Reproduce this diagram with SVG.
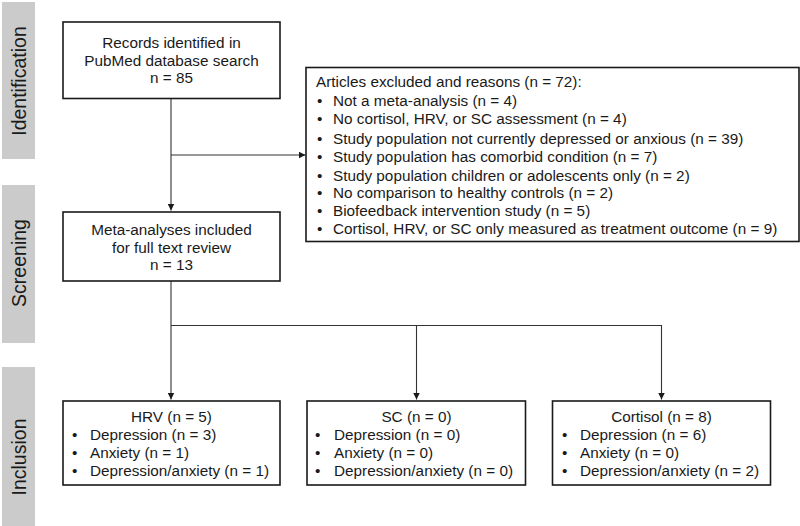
<svg xmlns="http://www.w3.org/2000/svg" width="800" height="526" viewBox="0 0 800 526">
<style>
.bar{fill:#cbcbcb}
.lab{font-family:"Liberation Sans",Arial,sans-serif;font-size:19.5px;fill:#1a1a1a;text-anchor:middle}
.box{fill:#fff;stroke:#1a1a1a;stroke-width:1.6}
.t{font-family:"Liberation Sans",Arial,sans-serif;font-size:15.3px;fill:#1a1a1a}
.c{text-anchor:middle}
.ln{fill:none;stroke:#333;stroke-width:1.1}
</style>
<defs>
<marker id="ah" viewBox="0 0 10 10" refX="10" refY="5" markerWidth="7" markerHeight="7" markerUnits="userSpaceOnUse" orient="auto">
<path d="M0,0 L10,5 L0,10 z" fill="#1a1a1a"/>
</marker>
</defs>
<rect width="800" height="526" fill="#fff"/>
<g id="phase-identification">
<rect class="bar" x="2" y="2" width="33" height="157"/>
<text class="lab" transform="translate(26,81) rotate(-90)">Identification</text>
</g>
<g id="phase-screening">
<rect class="bar" x="2" y="185" width="33" height="158"/>
<text class="lab" transform="translate(26,263) rotate(-90)">Screening</text>
</g>
<g id="phase-inclusion">
<rect class="bar" x="2" y="367" width="33" height="159"/>
<text class="lab" transform="translate(26,457) rotate(-90)">Inclusion</text>
</g>
<g id="connectors">
<path class="ln" d="M171,98.5 V210.5" marker-end="url(#ah)"/>
<path class="ln" d="M171,155 H305.5" marker-end="url(#ah)"/>
<path class="ln" d="M171,281 V399.5" marker-end="url(#ah)"/>
<path class="ln" d="M171,325.5 H661.5 V399.5" marker-end="url(#ah)"/>
<path class="ln" d="M416.5,325.5 V399.5" marker-end="url(#ah)"/>
</g>
<g id="records">
<rect class="box" x="63" y="22" width="217" height="76.5"/>
<text class="t c" x="171.5" y="48">Records identified in</text>
<text class="t c" x="171.5" y="65.5">PubMed database search</text>
<text class="t c" x="171.5" y="83">n = 85</text>
</g>
<g id="excluded">
<rect class="box" x="306" y="67.5" width="493" height="174"/>
<text class="t" x="316" y="87.3">Articles excluded and reasons (n = 72):</text>
<g class="t">
<text x="317" y="106">•</text><text x="333" y="106">Not a meta-analysis (n = 4)</text>
<text x="317" y="124.3">•</text><text x="333" y="124.3">No cortisol, HRV, or SC assessment (n = 4)</text>
<text x="317" y="143.5">•</text><text x="333" y="143.5">Study population not currently depressed or anxious (n = 39)</text>
<text x="317" y="161.5">•</text><text x="333" y="161.5">Study population has comorbid condition (n = 7)</text>
<text x="317" y="180.5">•</text><text x="333" y="180.5">Study population children or adolescents only (n = 2)</text>
<text x="317" y="198.3">•</text><text x="333" y="198.3">No comparison to healthy controls (n = 2)</text>
<text x="317" y="216">•</text><text x="333" y="216">Biofeedback intervention study (n = 5)</text>
<text x="317" y="234.3">•</text><text x="333" y="234.3">Cortisol, HRV, or SC only measured as treatment outcome (n = 9)</text>
</g>
</g>
<g id="fulltext">
<rect class="box" x="63" y="212" width="217" height="69"/>
<text class="t c" x="171.5" y="235">Meta-analyses included</text>
<text class="t c" x="171.5" y="252.5">for full text review</text>
<text class="t c" x="171.5" y="270">n = 13</text>
</g>
<g id="hrv">
<rect class="box" x="63" y="401" width="217" height="84"/>
<text class="t c" x="171.5" y="421.5">HRV (n = 5)</text>
<text class="t" x="72" y="439.5">•</text><text class="t" x="90" y="439.5">Depression (n = 3)</text>
<text class="t" x="72" y="457.5">•</text><text class="t" x="90" y="457.5">Anxiety (n = 1)</text>
<text class="t" x="72" y="476">•</text><text class="t" x="90" y="476">Depression/anxiety (n = 1)</text>
</g>
<g id="sc">
<rect class="box" x="307" y="401" width="218.5" height="84"/>
<text class="t c" x="416.5" y="421.5">SC (n = 0)</text>
<text class="t" x="315" y="439.5">•</text><text class="t" x="334" y="439.5">Depression (n = 0)</text>
<text class="t" x="315" y="457.5">•</text><text class="t" x="334" y="457.5">Anxiety (n = 0)</text>
<text class="t" x="315" y="476">•</text><text class="t" x="334" y="476">Depression/anxiety (n = 0)</text>
</g>
<g id="cortisol">
<rect class="box" x="552.5" y="401" width="218" height="84"/>
<text class="t c" x="661.5" y="421.5">Cortisol (n = 8)</text>
<text class="t" x="562" y="439.5">•</text><text class="t" x="580" y="439.5">Depression (n = 6)</text>
<text class="t" x="562" y="457.5">•</text><text class="t" x="580" y="457.5">Anxiety (n = 0)</text>
<text class="t" x="562" y="476">•</text><text class="t" x="580" y="476">Depression/anxiety (n = 2)</text>
</g>
</svg>
